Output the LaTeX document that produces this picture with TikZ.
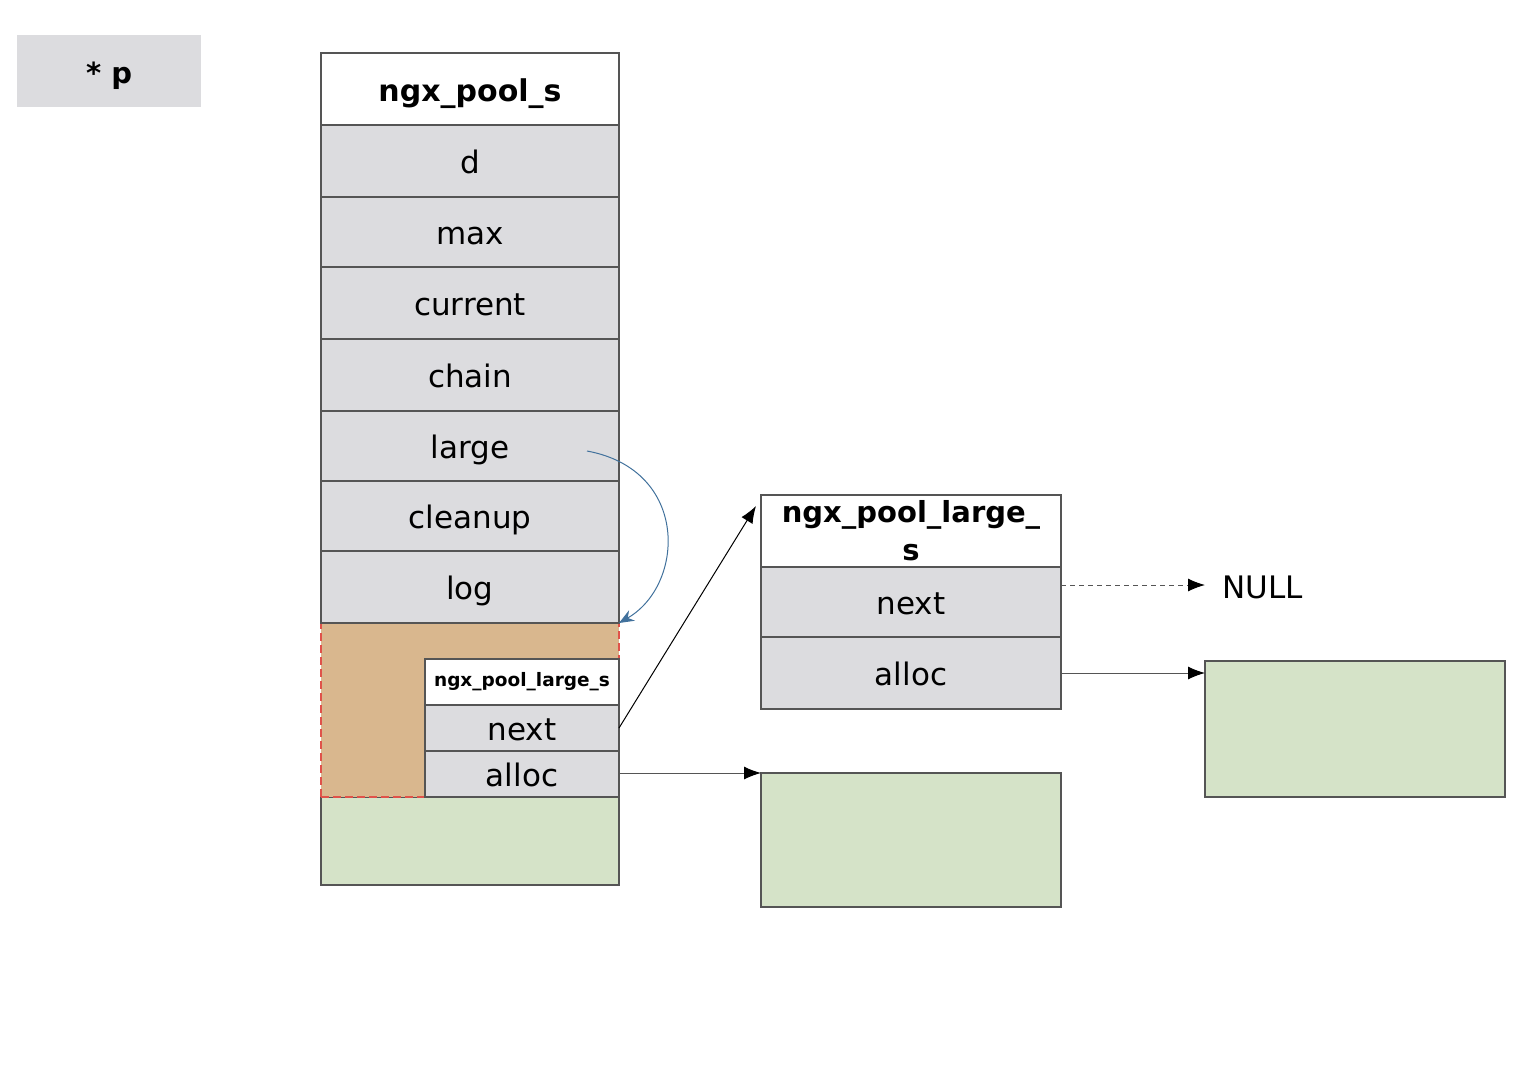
\documentclass[tikz,border=0pt]{standalone}
\usepackage{fontspec}
\setmainfont{DejaVu Sans}
\usetikzlibrary{arrows.meta}
\definecolor{cellgray}{HTML}{DCDCDF}
\definecolor{edgegray}{HTML}{555555}
\definecolor{orangefill}{HTML}{D9B78E}
\definecolor{greenfill}{HTML}{D5E3C8}
\definecolor{reddash}{HTML}{E0524A}
\definecolor{curveblue}{HTML}{41719C}
\begin{document}
\begin{tikzpicture}[x=1pt,y=-1pt,
  box/.style={draw=edgegray,line width=1.3pt,anchor=north west,inner sep=0pt,outer sep=0pt},
  cell/.style={box,fill=cellgray,font=\fontsize{31}{36}\selectfont,text height=28pt,text depth=3pt},
  title/.style={box,fill=white,font=\bfseries\fontsize{30}{36}\selectfont},
  mem/.style={box,fill=greenfill},
  arr/.style={-{Latex[length=17pt,width=13pt,black]},line width=1pt,black}
]
\useasboundingbox (0,0) rectangle (1534,1076);
% *p
\node[anchor=north west,inner sep=0pt,fill=cellgray,minimum width=184pt,minimum height=72pt,font=\bfseries\fontsize{29}{34}\selectfont,text height=26pt,text depth=2pt] (p) at (17,35) {* p};
% main pool
\node[mem,minimum width=298pt,minimum height=88pt] (pooldata) at (321,797) {};
\node[box,draw=reddash,dashed,dash pattern=on 8pt off 4pt,fill=orangefill,minimum width=298pt,minimum height=174pt] (largearea) at (321,623) {};
\node[title,minimum width=298pt,minimum height=72pt,text height=28pt,text depth=4pt] (pool) at (321,53) {ngx\_pool\_s};
\node[cell,minimum width=298pt,minimum height=72pt] (d) at (321,125) {d};
\node[cell,minimum width=298pt,minimum height=70pt] (max) at (321,197) {max};
\node[cell,minimum width=298pt,minimum height=72pt] (current) at (321,267) {current};
\node[cell,minimum width=298pt,minimum height=72pt] (chain) at (321,339) {chain};
\node[cell,minimum width=298pt,minimum height=70pt] (large) at (321,411) {large};
\node[cell,minimum width=298pt,minimum height=70pt] (cleanup) at (321,481) {cleanup};
\node[cell,minimum width=298pt,minimum height=72pt] (log) at (321,551) {log};
% small large struct
\node[title,font=\bfseries\fontsize{18.5}{22}\selectfont,minimum width=194pt,minimum height=46pt] (sl) at (425,659) {ngx\_pool\_large\_s};
\node[cell,minimum width=194pt,minimum height=46pt] (slnext) at (425,705) {next};
\node[cell,minimum width=194pt,minimum height=46pt] (slalloc) at (425,751) {alloc};
% right struct
\node[title,font=\bfseries\fontsize{29}{38}\selectfont,align=center,minimum width=300pt,minimum height=72pt] (rl) at (761,495) {ngx\_pool\_large\_\\s};
\node[cell,minimum width=300pt,minimum height=70pt] (rlnext) at (761,567) {next};
\node[cell,minimum width=300pt,minimum height=72pt] (rlalloc) at (761,637) {alloc};
% memory blocks
\node[mem,minimum width=300pt,minimum height=134pt] (mem1) at (761,773) {};
\node[mem,minimum width=300pt,minimum height=136pt] (mem2) at (1205,661) {};
\node[anchor=west,inner sep=0pt,font=\fontsize{31}{36}\selectfont] (null) at (1222,587) {NULL};
% connectors
\coordinate (largestart) at (587,451);
\draw[curveblue,line width=1pt,-{Stealth[length=15pt,width=12pt]}] (largestart) .. controls (690,470) and (685,585) .. (largearea.north east);
\coordinate (rltip) at (756,506);
\draw[arr] (slnext.east) -- (rltip);
\draw[arr,draw=edgegray] (slalloc.north east |- 0,773) -- (mem1.north west);
\draw[arr,draw=edgegray,dashed,dash pattern=on 5pt off 4pt] (rlnext.east |- 0,585) -- (1205,585) coordinate (nullpt);
\draw[arr,draw=edgegray] (rlalloc.east |- 0,673) -- (mem2.west |- 0,673);
\end{tikzpicture}
\end{document}
